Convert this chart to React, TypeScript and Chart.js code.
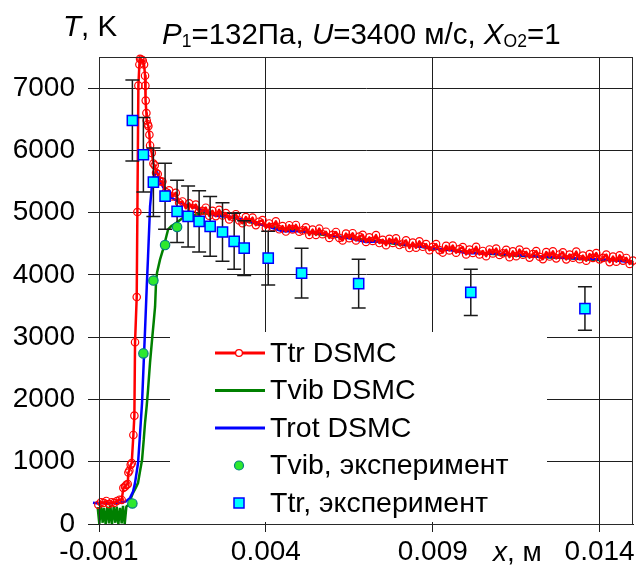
import { useEffect, useRef } from "react";
import { Chart, registerables } from "chart.js";

Chart.register(...registerables);

const FONT = "'Liberation Sans', Arial, Helvetica, sans-serif";

// Axis ticks
const xTicks = [-0.001, 0.004, 0.009, 0.014];
const yTicks = [0, 1000, 2000, 3000, 4000, 5000, 6000, 7000];
const xMin = -0.001;
const xMax = 0.015;
const yMin = 0;
const yMax = 7500;

// Ttr DSMC (translational temperature), x in metres, T in K
const ttrDsmcX = [
  -0.00118, -0.0011, -0.00102, -0.00094, -0.00086, -0.00078, -0.0007, -0.00062, -0.00054, -0.00046,
  -0.00038, -0.00032, -0.00027, -0.00022, -0.00018, -0.00014, -0.00012, -0.00009, -0.00005, -0.00002,
  0.00003, 0.00006, 0.00008, 0.00013, 0.00015, 0.00018, 0.00021, 0.00023, 0.00027, 0.00031,
  0.00035, 0.00038, 0.00039, 0.0004, 0.00042, 0.00043, 0.00046, 0.00048, 0.00051, 0.00053,
  0.00058, 0.00063, 0.00067, 0.00071, 0.00076, 0.00081, 0.00085,
  0.0009, 0.001, 0.0011, 0.0012, 0.0013, 0.0014, 0.0015, 0.0016, 0.0017, 0.0018, 0.0019,
  0.002, 0.0021, 0.0022, 0.0023, 0.0024, 0.0025, 0.0026, 0.0027, 0.0028, 0.0029,
  0.003, 0.0031, 0.0032, 0.0033, 0.0034, 0.0035, 0.0036, 0.0037, 0.0038, 0.0039,
  0.004, 0.0041, 0.0042, 0.0043, 0.0044, 0.0045, 0.0046, 0.0047, 0.0048, 0.0049,
  0.005, 0.0051, 0.0052, 0.0053, 0.0054, 0.0055, 0.0056, 0.0057, 0.0058, 0.0059,
  0.006, 0.0061, 0.0062, 0.0063, 0.0064, 0.0065, 0.0066, 0.0067, 0.0068, 0.0069,
  0.007, 0.0071, 0.0072, 0.0073, 0.0074, 0.0075, 0.0076, 0.0077, 0.0078, 0.0079,
  0.008, 0.0081, 0.0082, 0.0083, 0.0084, 0.0085, 0.0086, 0.0087, 0.0088, 0.0089,
  0.009, 0.0091, 0.0092, 0.0093, 0.0094, 0.0095, 0.0096, 0.0097, 0.0098, 0.0099,
  0.01, 0.0101, 0.0102, 0.0103, 0.0104, 0.0105, 0.0106, 0.0107, 0.0108, 0.0109,
  0.011, 0.0111, 0.0112, 0.0113, 0.0114, 0.0115, 0.0116, 0.0117, 0.0118, 0.0119,
  0.012, 0.0121, 0.0122, 0.0123, 0.0124, 0.0125, 0.0126, 0.0127, 0.0128, 0.0129,
  0.013, 0.0131, 0.0132, 0.0133, 0.0134, 0.0135, 0.0136, 0.0137, 0.0138, 0.0139,
  0.014, 0.0141, 0.0142, 0.0143, 0.0144, 0.0145, 0.0146, 0.0147, 0.0148, 0.0149, 0.015,
];
const ttrDsmcT = [
  330, 360, 310, 350, 340, 370, 320, 350, 340, 370,
  390, 386, 580, 600, 628, 640, 826, 858, 950, 977,
  1430, 1740, 2920, 3645, 5010, 7040, 7380, 7470, 7460, 7445,
  7380, 7200, 7040, 6800, 6600, 6480, 6420, 6390, 6250, 6080,
  5960, 5790, 5760, 5640, 5620, 5510, 5500,
  5500, 5330, 5360, 5260, 5320, 5160, 5180, 5070, 5150, 5070, 5130,
  5010, 5030, 5080, 4950, 5030, 4945, 5045, 4955, 4995, 4890,
  4935, 4975, 4875, 4830, 4930, 4845, 4920, 4800, 4855, 4880,
  4755, 4827, 4769, 4861, 4733, 4785, 4697, 4799, 4731, 4803,
  4695, 4715, 4766, 4641, 4727, 4642, 4743, 4653, 4694, 4594,
  4645, 4690, 4595, 4555, 4665, 4590, 4670, 4555, 4615, 4645,
  4530, 4603, 4546, 4639, 4512, 4565, 4478, 4581, 4514, 4587,
  4480, 4502, 4555, 4432, 4520, 4437, 4540, 4452, 4495, 4397,
  4450, 4495, 4399, 4359, 4468, 4393, 4472, 4357, 4416, 4446,
  4330, 4407, 4354, 4451, 4328, 4385, 4302, 4409, 4346, 4423,
  4320, 4347, 4404, 4286, 4378, 4300, 4407, 4324, 4371, 4278,
  4335, 4383, 4291, 4254, 4367, 4295, 4378, 4266, 4329, 4362,
  4250, 4328, 4276, 4374, 4252, 4310, 4228, 4336, 4274, 4352,
  4250, 4274, 4327, 4206, 4294, 4213, 4316, 4230, 4273, 4177, 4230,
];

// Tvib DSMC (vibrational temperature)
const tvibDsmcX = [
  -0.00118, -0.00113, -0.00108, -0.00104, -0.00099, -0.00094, -0.00089, -0.00085, -0.0008, -0.00075,
  -0.0007, -0.00066, -0.00061, -0.00056, -0.00051, -0.00047, -0.00042, -0.00037, -0.00032, -0.00028,
  -0.00023, -0.00018, -0.00013, -0.00008, -0.00004, 0.00002, 0.0001,
  0.00017, 0.00023, 0.00029, 0.00034, 0.00038, 0.00043, 0.00047, 0.00053, 0.00059, 0.00064,
  0.00068, 0.00071, 0.00074, 0.00083, 0.00092, 0.001, 0.00107, 0.00118, 0.0013, 0.0015,
  0.0018, 0.0021, 0.0025, 0.003, 0.0035, 0.004, 0.0045, 0.005, 0.0055, 0.006,
  0.0065, 0.007, 0.0075, 0.008, 0.0085, 0.009, 0.0095, 0.01, 0.0105, 0.011,
  0.0115, 0.012, 0.0125, 0.013, 0.0135, 0.014, 0.0145, 0.015,
];
const tvibDsmcT = [
  0, 280, 10, 270, 0, 290, 20, 260, 0, 280,
  10, 300, 0, 270, 20, 280, 0, 260, 10, 290,
  0, 280, 300, 350, 420, 500, 580,
  660, 850, 1030, 1350, 1630, 1900, 2160, 2600, 2960, 3250,
  3490, 3900, 4040, 4250, 4410, 4580, 4730, 4790, 4830, 4910,
  4960, 4990, 4970, 4920, 4850, 4790, 4740, 4710, 4660, 4620,
  4600, 4560, 4530, 4490, 4470, 4420, 4410, 4370, 4350, 4330,
  4310, 4300, 4280, 4270, 4250, 4240, 4240, 4210,
];

// Trot DSMC (rotational temperature)
const trotDsmcX = [
  -0.00118, -0.001, -0.0008, -0.0006, -0.0004, -0.0002, -0.00007, 0.00002, 0.00008, 0.00017,
  0.00023, 0.00029, 0.00034, 0.00038, 0.00043, 0.00047, 0.00053, 0.00058, 0.00062, 0.00068,
  0.00074, 0.0008, 0.00087, 0.00095, 0.00105, 0.00115, 0.0013, 0.0015, 0.002, 0.0025,
  0.003, 0.0035, 0.004, 0.0045, 0.005, 0.0055, 0.006, 0.0065, 0.007, 0.0075,
  0.008, 0.0085, 0.009, 0.0095, 0.01, 0.0105, 0.011, 0.0115, 0.012, 0.0125,
  0.013, 0.0135, 0.014, 0.0145, 0.015,
];
const trotDsmcT = [
  340, 330, 345, 335, 340, 360, 420, 520, 660, 980,
  1450, 1950, 2600, 3120, 3800, 4300, 5100, 5400, 5540, 5620,
  5650, 5560, 5460, 5380, 5310, 5250, 5200, 5150, 5060, 4950,
  4930, 4860, 4790, 4700, 4700, 4680, 4630, 4590, 4530, 4540,
  4500, 4460, 4430, 4400, 4350, 4350, 4340, 4320, 4300, 4290,
  4270, 4260, 4250, 4230, 4200,
];

// Experiment
const expX = [0.0, 0.00033, 0.00063, 0.00098, 0.00134, 0.00167, 0.002, 0.00233, 0.0027, 0.00305, 0.00335, 0.00407, 0.00507, 0.00678, 0.01014, 0.01356];
const expTtr = [6480, 5930, 5490, 5265, 5020, 4940, 4860, 4780, 4690, 4540, 4430, 4270, 4030, 3860, 3720, 3460];
const expTtrErr = [650, 600, 550, 530, 500, 490, 490, 480, 470, 450, 440, 430, 400, 390, 370, 350];
const expTvibX = [0.0, 0.00033, 0.00063, 0.00098, 0.00134];
const expTvib = [330, 2740, 3910, 4480, 4770];

const legendLabels = ["Ttr DSMC", "Tvib DSMC", "Trot DSMC", "Tvib, эксперимент", "Ttr, эксперимент"];

const RED = "#ff0000";
const GREEN = "#008000";
const BLUE = "#0000ff";
const LIME = "#2ee82e";
const TEAL = "#008080";
const CYAN = "#00ffff";
const GRID = "#1e1e1e";

const toPoints = (xs: number[], ys: number[]) => xs.map((x, i) => ({ x, y: ys[i] }));

const TTR_DSMC_INDEX = 2;

const errorBarPlugin = {
  id: "errorBars",
  afterDatasetDraw(chart: any, args: any) {
    if (args.index !== TTR_DSMC_INDEX) return;
    const { ctx, scales } = chart;
    const xs = scales.x;
    const ys = scales.y;
    ctx.save();
    ctx.strokeStyle = "#1a1a1a";
    ctx.lineWidth = 1.5;
    for (let i = 0; i < expX.length; i++) {
      const px = xs.getPixelForValue(expX[i]);
      const top = ys.getPixelForValue(expTtr[i] + expTtrErr[i]);
      const bot = ys.getPixelForValue(expTtr[i] - expTtrErr[i]);
      ctx.beginPath();
      ctx.moveTo(px, top);
      ctx.lineTo(px, bot);
      ctx.moveTo(px - 7, top);
      ctx.lineTo(px + 7, top);
      ctx.moveTo(px - 7, bot);
      ctx.lineTo(px + 7, bot);
      ctx.stroke();
    }
    ctx.restore();
  },
};

const boxLegendPlugin = {
  id: "boxLegend",
  afterDatasetsDraw(chart: any) {
    const { ctx, chartArea } = chart;
    const left = chartArea.left + 71;
    const top = chartArea.top + 275;
    const width = 377;
    const height = chartArea.bottom - 2 - top;
    ctx.save();
    ctx.fillStyle = "#ffffff";
    ctx.fillRect(left, top, width, height);
    const rowY0 = top + 21;
    const rowStep = 37.5;
    const lineL = left + 45;
    const lineR = left + 95;
    const mid = left + 69;
    const textX = left + 100;
    for (let i = 0; i < legendLabels.length; i++) {
      const y = rowY0 + i * rowStep;
      if (i < 3) {
        ctx.strokeStyle = [RED, GREEN, BLUE][i];
        ctx.lineWidth = 3;
        ctx.beginPath();
        ctx.moveTo(lineL, y);
        ctx.lineTo(lineR, y);
        ctx.stroke();
        if (i === 0) {
          ctx.lineWidth = 1.3;
          ctx.beginPath();
          ctx.arc(mid, y, 3.4, 0, Math.PI * 2);
          ctx.fillStyle = "#ffffff";
          ctx.fill();
          ctx.stroke();
        }
      } else if (i === 3) {
        ctx.fillStyle = LIME;
        ctx.strokeStyle = TEAL;
        ctx.lineWidth = 1.2;
        ctx.beginPath();
        ctx.arc(mid, y, 4.5, 0, Math.PI * 2);
        ctx.fill();
        ctx.stroke();
      } else {
        ctx.fillStyle = CYAN;
        ctx.strokeStyle = BLUE;
        ctx.lineWidth = 1.5;
        ctx.fillRect(mid - 5, y - 5, 10, 10);
        ctx.strokeRect(mid - 5, y - 5, 10, 10);
      }
      ctx.fillStyle = "#000";
      ctx.font = `28.5px ${FONT}`;
      ctx.textAlign = "left";
      ctx.textBaseline = "middle";
      ctx.fillText(legendLabels[i], textX, y + 1);
    }
    ctx.restore();
  },
};

const frameBorderPlugin = {
  id: "frameBorder",
  afterDraw(chart: any) {
    const { ctx, chartArea } = chart;
    ctx.save();
    ctx.strokeStyle = "#2a2a2a";
    ctx.lineWidth = 1;
    ctx.strokeRect(
      Math.round(chartArea.left) + 0.5,
      Math.round(chartArea.top) + 0.5,
      Math.round(chartArea.right - chartArea.left) - 1,
      Math.round(chartArea.bottom - chartArea.top)
    );
    ctx.restore();
  },
};

export default function App() {
  const canvasRef = useRef<HTMLCanvasElement | null>(null);

  useEffect(() => {
    if (!canvasRef.current) return;
    const chart = new Chart(canvasRef.current, {
      type: "line",
      data: {
        datasets: [
          {
            label: "Ttr, эксперимент",
            data: toPoints(expX, expTtr),
            showLine: false,
            pointStyle: "rect",
            pointRadius: 7.2,
            pointBackgroundColor: CYAN,
            pointBorderColor: BLUE,
            pointBorderWidth: 1.5,
            order: 0,
            clip: false,
          },
          {
            label: "Tvib, эксперимент",
            data: toPoints(expTvibX, expTvib),
            showLine: false,
            pointStyle: "circle",
            pointRadius: 4.7,
            pointBackgroundColor: LIME,
            pointBorderColor: TEAL,
            pointBorderWidth: 1.2,
            order: 1,
            clip: false,
          },
          {
            label: "Ttr DSMC",
            data: toPoints(ttrDsmcX, ttrDsmcT),
            borderColor: RED,
            borderWidth: 2.5,
            borderJoinStyle: "round",
            tension: 0,
            pointStyle: "circle",
            pointRadius: 3.7,
            pointBorderWidth: 1.2,
            pointBorderColor: RED,
            pointBackgroundColor: "rgba(0,0,0,0)",
            order: 2,
            clip: false,
          },
          {
            label: "Trot DSMC",
            data: toPoints(trotDsmcX, trotDsmcT),
            borderColor: BLUE,
            borderWidth: 2.5,
            borderJoinStyle: "round",
            tension: 0,
            pointRadius: 0,
            order: 3,
            clip: false,
          },
          {
            label: "Tvib DSMC",
            data: toPoints(tvibDsmcX, tvibDsmcT),
            borderColor: GREEN,
            borderWidth: 2.5,
            borderJoinStyle: "bevel",
            tension: 0,
            pointRadius: 0,
            order: 4,
            clip: false,
          },
        ],
      },
      options: {
        responsive: false,
        animation: false,
        devicePixelRatio: 1,
        events: [],
        layout: { autoPadding: false, padding: { left: 0, right: 3, top: 57, bottom: 0 } },
        plugins: {
          legend: { display: false },
          tooltip: { enabled: false },
          title: { display: false },
        },
        scales: {
          x: {
            type: "linear",
            min: xMin,
            max: xMax,
            afterBuildTicks: (scale: any) => {
              scale.ticks = xTicks.map((v) => ({ value: v }));
            },
            afterFit: (scale: any) => {
              scale.height = 54;
              scale.paddingLeft = 0;
              scale.paddingRight = 0;
            },
            ticks: {
              autoSkip: false,
              maxRotation: 0,
              padding: 3,
              color: "#000",
              font: { family: FONT, size: 28 },
              callback: (v: any) => String(v),
            },
            grid: { color: GRID, lineWidth: 1, tickLength: 8, tickColor: GRID },
            border: { display: true, color: GRID, width: 1 },
          },
          y: {
            type: "linear",
            min: yMin,
            max: yMax,
            afterBuildTicks: (scale: any) => {
              scale.ticks = yTicks.map((v) => ({ value: v }));
            },
            afterFit: (scale: any) => {
              scale.width = 99;
              scale.paddingTop = 0;
              scale.paddingBottom = 0;
            },
            ticks: {
              autoSkip: false,
              padding: 13,
              color: "#000",
              font: { family: FONT, size: 28 },
              callback: (v: any) => String(v),
            },
            grid: { color: GRID, lineWidth: 1, tickLength: 11, tickColor: GRID },
            border: { display: true, color: GRID, width: 1 },
          },
        },
      },
      plugins: [errorBarPlugin, boxLegendPlugin, frameBorderPlugin],
    });
    return () => chart.destroy();
  }, []);

  const textBase: any = {
    position: "absolute",
    fontFamily: FONT,
    whiteSpace: "nowrap",
    color: "#000",
  };
  const big = (size: number, baseline: number) => ({
    ...textBase,
    fontSize: size,
    lineHeight: `${size}px`,
    top: baseline - 0.8465 * size,
  });
  const sub: any = { fontSize: 17.5, lineHeight: "17.5px", position: "relative", top: 3 };

  return (
    <div style={{ position: "absolute", left: 0, top: 0, width: 636, height: 578, background: "#fff" }}>
      <canvas ref={canvasRef} width={636} height={578} style={{ display: "block", width: 636, height: 578 }} />
      <div style={{ ...big(29.5, 36), left: 63 }}>
        <i>T</i>, K
      </div>
      <div style={{ ...big(29.5, 44), left: 162 }}>
        <i>P</i>
        <span style={sub}>1</span>=132Па, <i>U</i>=3400 м/с, <i>X</i>
        <span style={sub}>O2</span>=1
      </div>
      <div style={{ ...big(28, 562), left: 493 }}>
        <i>x</i>, м
      </div>
    </div>
  );
}
